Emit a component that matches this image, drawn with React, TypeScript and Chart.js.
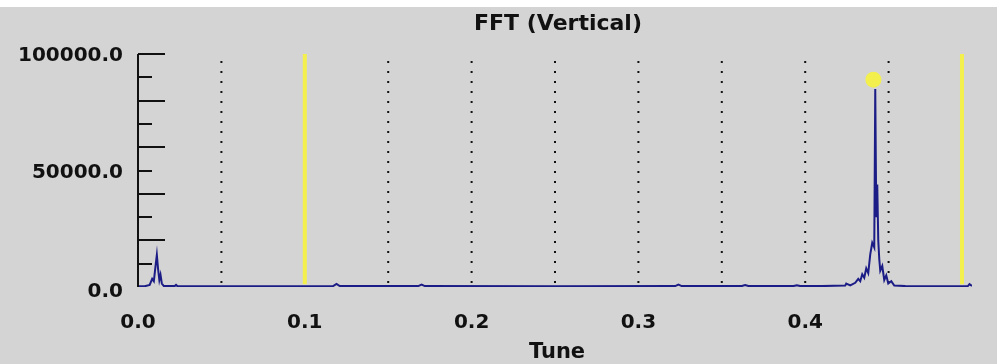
import React, { useEffect, useRef } from "react";
import { Chart, registerables } from "chart.js";

Chart.register(...registerables);

// Spectrum: tune (fractional) and FFT magnitude
const tune: number[] = [
  0.0, 0.004, 0.007, 0.0085, 0.0095, 0.0105, 0.0113, 0.012, 0.0128, 0.0135, 0.0143, 0.0155,
  0.022, 0.0228, 0.0236, 0.06, 0.117, 0.119, 0.121, 0.168, 0.17, 0.172, 0.25, 0.322, 0.324,
  0.326, 0.362, 0.364, 0.366, 0.393, 0.395, 0.397, 0.41, 0.424, 0.4246, 0.427, 0.43, 0.4318,
  0.433, 0.4342, 0.4354, 0.4366, 0.4378, 0.439, 0.4402, 0.4414, 0.442, 0.4426, 0.4432, 0.4438,
  0.4444, 0.445, 0.4462, 0.4474, 0.4486, 0.4498, 0.4516, 0.4534, 0.46, 0.49, 0.4975, 0.4985,
  0.5,
];
const magnitude: number[] = [
  300, 300, 900, 3500, 2500, 9000, 13800, 8000, 3000, 5200, 1500, 400,
  400, 900, 400, 350, 400, 1300, 400, 400, 1000, 400, 350, 400, 1000,
  400, 400, 800, 400, 400, 700, 400, 400, 600, 1500, 700, 1800, 3500,
  2500, 5500, 4000, 8000, 6000, 14000, 19000, 17000, 85000, 30000, 44000, 20000,
  12000, 7000, 9000, 3000, 5000, 1500, 2500, 600, 400, 350, 400, 1200,
  400,
];

// Dotted reference lines and yellow markers on the tune axis
const dottedTunes: number[] = [0.05, 0.15, 0.2, 0.25, 0.3, 0.35, 0.4, 0.45];
const yellowTunes: number[] = [0.1, 0.494];
const peakMarker = { x: 0.4409, y: 89000 };

// Axis ticks and labels
const xTickValues: number[] = [0.0, 0.1, 0.2, 0.3, 0.4];
const yTickValues: number[] = [10000, 20000, 30000, 40000, 50000, 60000, 70000, 80000, 90000, 100000];
const yLabelValues: number[] = [0, 50000, 100000];

const titleText = "FFT (Vertical)";
const xAxisTitle = "Tune";

const BG = "#d4d4d4";
const INK = "#111111";
const NAVY = "#1c1c86";
const YELLOW = "#f3ef4c";

function verticalSegments(xs: number[], lo: number, hi: number) {
  const pts: { x: number; y: number | null }[] = [];
  xs.forEach((x) => {
    pts.push({ x, y: lo }, { x, y: hi }, { x, y: null });
  });
  return pts;
}

const decorPlugin = {
  id: "fftDecor",
  beforeDraw(chart: any) {
    const { ctx, width, height } = chart;
    ctx.save();
    ctx.fillStyle = BG;
    ctx.fillRect(0, 0, width, height);
    ctx.fillStyle = "#ffffff";
    ctx.fillRect(0, 0, width, 7);
    ctx.restore();
  },
  afterDraw(chart: any) {
    const { ctx, chartArea } = chart;
    const xs = chart.scales.x;
    const ys = chart.scales.y;
    const x0 = xs.getPixelForValue(0);
    ctx.save();
    // Y axis line with alternating long/short ticks
    ctx.strokeStyle = INK;
    ctx.lineWidth = 2;
    ctx.beginPath();
    ctx.moveTo(x0, ys.getPixelForValue(100000));
    ctx.lineTo(x0, ys.getPixelForValue(0));
    ctx.stroke();
    yTickValues.forEach((v) => {
      const y = Math.round(ys.getPixelForValue(v)) + 0.0;
      const long = (v / 10000) % 2 === 0;
      ctx.beginPath();
      ctx.moveTo(x0, y);
      ctx.lineTo(x0 + (long ? 27 : 14), y);
      ctx.stroke();
    });

    ctx.fillStyle = INK;
    ctx.font = "bold 20px 'DejaVu Sans'";
    ctx.textAlign = "right";
    ctx.textBaseline = "middle";
    yLabelValues.forEach((v) => {
      const y = ys.getPixelForValue(v);
      ctx.fillText(v.toFixed(1), 123, y + (v === 0 ? 5 : 2));
    });

    ctx.textAlign = "center";
    xTickValues.forEach((v) => {
      ctx.fillText(v.toFixed(1), xs.getPixelForValue(v), 323);
    });

    ctx.font = "bold 21px 'DejaVu Sans'";
    ctx.fillText(xAxisTitle, (chartArea.left + chartArea.right) / 2 + 2, 353);

    ctx.font = "bold 22px 'DejaVu Sans'";
    ctx.fillText(titleText, (chartArea.left + chartArea.right) / 2 + 3, 24);
    ctx.restore();
  },
};

export default function App() {
  const canvasRef = useRef<HTMLCanvasElement | null>(null);

  useEffect(() => {
    if (!canvasRef.current) return;
    const spectrum = tune.map((t, i) => ({ x: t, y: magnitude[i] }));
    const chart = new Chart(canvasRef.current, {
      type: "line",
      data: {
        datasets: [
          {
            label: "peak",
            data: [peakMarker],
            showLine: false,
            pointRadius: 8,
            pointBackgroundColor: YELLOW,
            pointBorderWidth: 0,
            order: 0,
          },
          {
            label: "spectrum",
            data: spectrum,
            borderColor: NAVY,
            borderWidth: 2,
            pointRadius: 0,
            tension: 0,
            order: 1,
          },
          {
            label: "yellow",
            data: verticalSegments(yellowTunes, 1200, 100000),
            borderColor: YELLOW,
            borderWidth: 4,
            pointRadius: 0,
            spanGaps: false,
            order: 2,
          },
          {
            label: "dotted",
            data: verticalSegments(dottedTunes, 1700, 99000),
            borderColor: INK,
            borderWidth: 2,
            borderDash: [2, 8],
            pointRadius: 0,
            spanGaps: false,
            order: 3,
          },
        ],
      },
      options: {
        animation: false,
        responsive: false,
        devicePixelRatio: 1,
        layout: { padding: { left: 138, right: 25, top: 54, bottom: 77 } },
        plugins: { legend: { display: false }, tooltip: { enabled: false }, title: { display: false } },
        events: [],
        scales: {
          x: { type: "linear", min: 0, max: 0.5, display: false },
          y: { type: "linear", min: 0, max: 100000, display: false },
        },
      },
      plugins: [decorPlugin],
    });
    return () => chart.destroy();
  }, []);

  return (
    <div style={{ position: "fixed", left: 0, top: 0, width: 997, height: 364, background: BG }}>
      <canvas ref={canvasRef} width={997} height={364} style={{ display: "block" }} />
    </div>
  );
}
